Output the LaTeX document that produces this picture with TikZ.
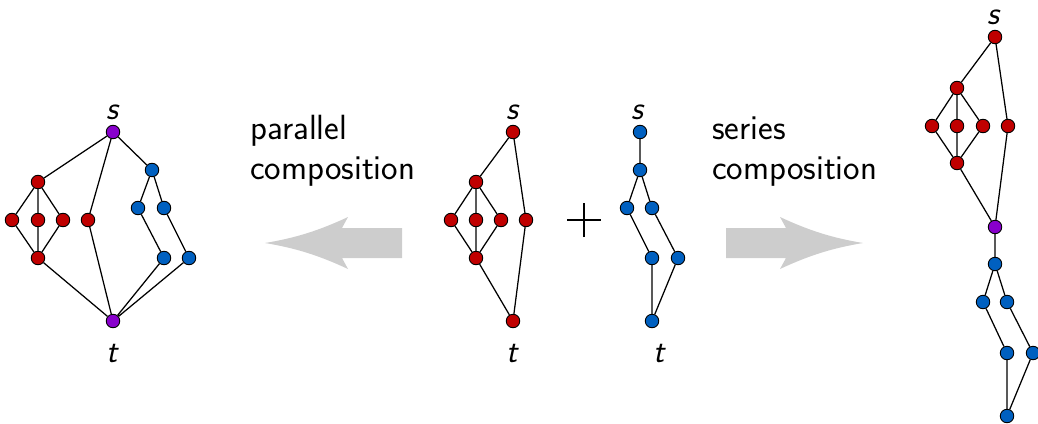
\documentclass[tikz,border=0pt]{standalone}
\usepackage{xcolor}
\usepackage{tikz}
\usetikzlibrary{arrows.meta, positioning}

\definecolor{vred}{RGB}{192,0,0}
\definecolor{vblue}{RGB}{0,96,192}
\definecolor{vpurple}{RGB}{136,0,204}
\definecolor{arrowgray}{RGB}{205,205,205}

\begin{document}
\begin{tikzpicture}[x=1pt, y=-1pt,
		vtx/.style={circle, draw=black, line width=0.9pt, inner sep=0pt, minimum size=13.5pt},
		rv/.style={vtx, fill=vred},
		bv/.style={vtx, fill=vblue},
		pv/.style={vtx, fill=vpurple},
		edge/.style={line width=1.25pt},
		lbl/.style={font=\fontsize{33}{38}\selectfont\sffamily\itshape, inner sep=0pt, anchor=base},
		caption/.style={font=\fontsize{35}{40}\selectfont\sffamily, align=left, inner sep=0pt, anchor=base west}]
		\useasboundingbox (0,0) rectangle (1038,423);
		% Parallel composition (left):
		\node[pv](Ps) at (113,132){};
		\node[pv](Pt) at (113,321){};
		\node[rv](P0) at (38,182){};
		\node[rv](P1) at (12,220){};
		\node[rv](P2) at (38,220){};
		\node[rv](P3) at (63,220){};
		\node[rv](P4) at (88,220){};
		\node[rv](P5) at (38,258){};
		\node[bv](Q0) at (152,170){};
		\node[bv](Q1) at (138,208){};
		\node[bv](Q2) at (164,208){};
		\node[bv](Q3) at (164,258){};
		\node[bv](Q4) at (189,258){};
		\draw[edge] (Ps) -- (P0) (Ps) -- (P4) (Ps) -- (Q0);
		\draw[edge] (P0) -- (P1) (P0) -- (P2) (P0) -- (P3);
		\draw[edge] (P1) -- (P5) (P2) -- (P5) (P3) -- (P5);
		\draw[edge] (P5) -- (Pt) (P4) -- (Pt);
		\draw[edge] (Q0) -- (Q1) (Q0) -- (Q2) (Q1) -- (Q3) (Q2) -- (Q4);
		\draw[edge] (Q3) -- (Pt) (Q4) -- (Pt);
		\node[lbl](Psl) at (112,119){s};
		\node[lbl](Ptl) at (112,362){t};
		% Red graph (middle):
		\node[rv](Gs) at (513,132){};
		\node[rv](Gt) at (513,321){};
		\node[rv](G0) at (476,182){};
		\node[rv](G1) at (451,220){};
		\node[rv](G2) at (476,220){};
		\node[rv](G3) at (501,220){};
		\node[rv](G4) at (526,220){};
		\node[rv](G5) at (476,258){};
		\draw[edge] (Gs) -- (G0) (Gs) -- (G4);
		\draw[edge] (G0) -- (G1) (G0) -- (G2) (G0) -- (G3);
		\draw[edge] (G1) -- (G5) (G2) -- (G5) (G3) -- (G5);
		\draw[edge] (G5) -- (Gt) (G4) -- (Gt);
		\node[lbl](Gsl) at (512,119){s};
		\node[lbl](Gtl) at (512,362){t};
		% Blue graph (middle):
		\node[bv](Hs) at (640,132){};
		\node[bv](Ht) at (652,321){};
		\node[bv](H0) at (640,170){};
		\node[bv](H1) at (627,208){};
		\node[bv](H2) at (652,208){};
		\node[bv](H3) at (652,258){};
		\node[bv](H4) at (678,258){};
		\draw[edge] (Hs) -- (H0) (H0) -- (H1) (H0) -- (H2);
		\draw[edge] (H1) -- (H3) (H2) -- (H4) (H3) -- (Ht) (H4) -- (Ht);
		\node[lbl](Hsl) at (637,119){s};
		\node[lbl](Htl) at (659,362){t};
		\coordinate (plus) at (584,220);
		\draw[line width=1.4pt] ([xshift=-17pt]plus) -- ([xshift=17pt]plus);
		\draw[line width=1.4pt] ([yshift=-17pt]plus) -- ([yshift=17pt]plus);
		% Series composition (right):
		\node[rv](Ss) at (995,37){};
		\node[rv](S0) at (957,88){};
		\node[rv](S1) at (932,126){};
		\node[rv](S2) at (957,126){};
		\node[rv](S3) at (983,126){};
		\node[rv](S4) at (1008,126){};
		\node[rv](S5) at (957,163){};
		\node[pv](Sm) at (995,227){};
		\node[bv](T0) at (995,264){};
		\node[bv](T1) at (983,302){};
		\node[bv](T2) at (1007,302){};
		\node[bv](T3) at (1007,353){};
		\node[bv](T4) at (1033,353){};
		\node[bv](Tt) at (1007,416){};
		\draw[edge] (Ss) -- (S0) (Ss) -- (S4);
		\draw[edge] (S0) -- (S1) (S0) -- (S2) (S0) -- (S3);
		\draw[edge] (S1) -- (S5) (S2) -- (S5) (S3) -- (S5);
		\draw[edge] (S5) -- (Sm) (S4) -- (Sm);
		\draw[edge] (Sm) -- (T0) (T0) -- (T1) (T0) -- (T2);
		\draw[edge] (T1) -- (T3) (T2) -- (T4) (T3) -- (Tt) (T4) -- (Tt);
		\node[lbl](Ssl) at (993,24){s};
		% Big arrows and captions:
		\fill[arrowgray] (402,228) -- (342,228) -- (348,217) .. controls (318,231) and (295,238) .. (265,243)
			.. controls (295,248) and (318,255) .. (348,269) -- (342,258) -- (402,258) -- cycle;
		\fill[arrowgray] (726,228) -- (786,228) -- (780,217) .. controls (810,231) and (833,238) .. (863,243)
			.. controls (833,248) and (810,255) .. (780,269) -- (786,258) -- (726,258) -- cycle;
		\node[caption](par) at (250,179){parallel\\composition};
		\node[caption](ser) at (712,179){series\\composition};
	\end{tikzpicture}
\end{document}
